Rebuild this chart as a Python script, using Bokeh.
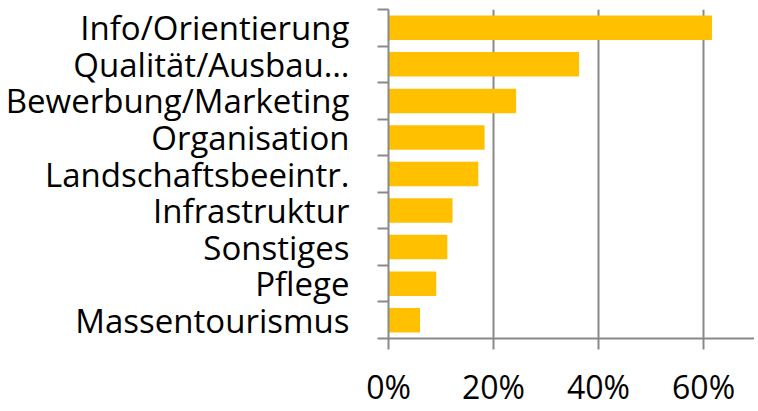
from bokeh.plotting import figure
from bokeh.models import Range1d, FixedTicker, NumeralTickFormatter, ColumnDataSource
from bokeh.embed import file_html
from bokeh.resources import INLINE

categories = ["Info/Orientierung", "Qualität/Ausbau…", "Bewerbung/Marketing", "Organisation",
              "Landschaftsbeeintr.", "Infrastruktur", "Sonstiges", "Pflege", "Massentourismus"]
values = [0.616, 0.363, 0.243, 0.183, 0.171, 0.122, 0.112, 0.091, 0.060]
x_ticks = [0.0, 0.2, 0.4, 0.6]

n = len(categories)
ypos = [n - 1 - i for i in range(n)]
src = ColumnDataSource(dict(y=ypos, v=values, cat=categories))

FONT = "Open Sans"
GRAY = "#898989"

p = figure(frame_width=366, frame_height=329, output_backend="svg", toolbar_location=None,
           x_range=Range1d(0, 0.697), y_range=Range1d(-0.5, n - 0.5),
           min_border_left=388, min_border_right=0, min_border_top=9, min_border_bottom=0)
p.outline_line_color = None
p.background_fill_color = "white"
p.border_fill_color = "white"

p.hbar(y="y", right="v", left=0, height=0.67, source=src, fill_color="#FFC000", line_color=None)

# y axis: labels at centers, ticks at category boundaries
yt = FixedTicker(ticks=ypos, minor_ticks=[i - 0.5 for i in range(n + 1)])
p.yaxis.ticker = yt
p.yaxis.major_label_overrides = {y: c for y, c in zip(ypos, categories)}
p.yaxis.major_tick_out = 0
p.yaxis.major_tick_in = 0
p.yaxis.minor_tick_out = 11
p.yaxis.minor_tick_in = 0
p.yaxis.minor_tick_line_color = GRAY
p.yaxis.minor_tick_line_width = 2
p.yaxis.axis_line_color = GRAY
p.yaxis.axis_line_width = 2
p.yaxis.major_label_standoff = 28
p.yaxis.major_label_text_font = FONT
p.yaxis.major_label_text_font_size = "33px"
p.yaxis.major_label_text_color = "#000000"

# x axis
p.xaxis.ticker = FixedTicker(ticks=x_ticks, minor_ticks=[])
p.xaxis.formatter = NumeralTickFormatter(format="0%")
p.xaxis.major_tick_out = 11
p.xaxis.major_tick_in = 0
p.xaxis.major_tick_line_color = GRAY
p.xaxis.major_tick_line_width = 2
p.xaxis.axis_line_color = GRAY
p.xaxis.axis_line_width = 2
p.xaxis.major_label_standoff = 15
p.xaxis.major_label_text_font = FONT
p.xaxis.major_label_text_font_size = "32px"
p.xaxis.major_label_text_color = "#000000"

p.xgrid.grid_line_color = GRAY
p.xgrid.grid_line_width = 2
p.ygrid.grid_line_color = None

open("out.html", "w").write(file_html(p, INLINE))
